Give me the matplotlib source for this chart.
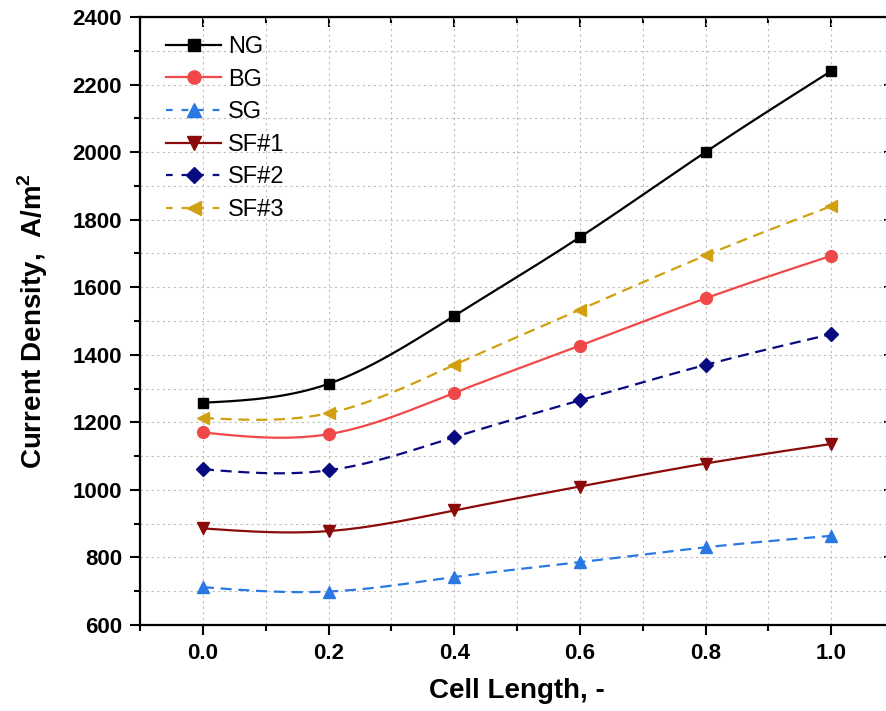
import numpy as np
import matplotlib.pyplot as plt
from matplotlib.ticker import MultipleLocator

plt.rcParams['font.family'] = ['Liberation Sans', 'DejaVu Sans']

cell_length = [0.0, 0.2, 0.4, 0.6, 0.8, 1.0]
ng = [1258, 1314, 1515, 1748, 2000, 2240]
bg = [1170, 1165, 1287, 1427, 1567, 1693]
sg = [712, 699, 742, 786, 830, 864]
sf1 = [886, 878, 939, 1010, 1078, 1136]
sf2 = [1061, 1058, 1156, 1265, 1370, 1461]
sf3 = [1213, 1227, 1370, 1533, 1694, 1840]


def spline(x, y, n=200):
    # natural cubic spline, like the smoothed lines in Origin
    x = np.asarray(x, float)
    y = np.asarray(y, float)
    k = len(x)
    h = np.diff(x)
    A = np.zeros((k, k))
    b = np.zeros(k)
    A[0, 0] = A[-1, -1] = 1
    for i in range(1, k - 1):
        A[i, i - 1] = h[i - 1]
        A[i, i] = 2 * (h[i - 1] + h[i])
        A[i, i + 1] = h[i]
        b[i] = 6 * ((y[i + 1] - y[i]) / h[i] - (y[i] - y[i - 1]) / h[i - 1])
    m = np.linalg.solve(A, b)
    xs = np.linspace(x[0], x[-1], n)
    idx = np.clip(np.searchsorted(x, xs) - 1, 0, k - 2)
    x0, x1 = x[idx], x[idx + 1]
    hh = x1 - x0
    t0, t1 = x1 - xs, xs - x0
    ys = (m[idx] * t0 ** 3 + m[idx + 1] * t1 ** 3) / (6 * hh) \
        + (y[idx] / hh - m[idx] * hh / 6) * t0 \
        + (y[idx + 1] / hh - m[idx + 1] * hh / 6) * t1
    return xs, ys


series = [
    ("NG", ng, 'black', '-', 's', 7.5),
    ("BG", bg, '#f04848', '-', 'o', 8.5),
    ("SG", sg, '#2a78e4', '--', '^', 9),
    ("SF#1", sf1, '#8b0a0a', '-', 'v', 9),
    ("SF#2", sf2, '#0a0a80', '--', 'D', 7.5),
    ("SF#3", sf3, '#d0a010', '--', '<', 9),
]

fig = plt.figure(figsize=(8.86, 7.11), dpi=100)
ax = fig.add_axes([140 / 886, 86 / 711, 754 / 886, 608 / 711])

for name, vals, col, ls, mk, ms in series:
    xs, ys = spline(cell_length, vals)
    ax.plot(xs, ys, color=col, ls=ls, lw=1.6, dashes=(5, 3) if ls == '--' else (None, None))
    ax.plot(cell_length, vals, ls='none', marker=mk, ms=ms, color=col)
    ax.plot([], [], color=col, ls=ls, lw=1.6, marker=mk, ms=ms + 1, label=name,
            dashes=(3, 4) if ls == '--' else (None, None))

ax.set_xlim(-0.1, 1.1)
ax.set_ylim(600, 2400)
ax.xaxis.set_major_locator(MultipleLocator(0.2))
ax.xaxis.set_minor_locator(MultipleLocator(0.1))
ax.yaxis.set_major_locator(MultipleLocator(200))
ax.yaxis.set_minor_locator(MultipleLocator(100))
ax.set_xticks(cell_length)
ax.set_xticklabels([f"{v:.1f}" for v in cell_length])
ax.grid(which='both', color='#bdbdbd', ls=(0, (2, 3)), lw=0.8)
ax.set_axisbelow(True)

ax.tick_params(which='major', direction='out', length=7, width=1.5, labelsize=16, pad=6)
ax.tick_params(which='minor', direction='out', length=4, width=1.5)
for lab in ax.get_xticklabels() + ax.get_yticklabels():
    lab.set_fontweight('bold')
for s in ax.spines.values():
    s.set_linewidth(1.6)

top = ax.secondary_xaxis('top')
top.xaxis.set_major_locator(MultipleLocator(0.2))
top.xaxis.set_minor_locator(MultipleLocator(0.1))
top.tick_params(which='major', direction='in', length=7, width=1.5, labeltop=False)
top.tick_params(which='minor', direction='in', length=4, width=1.5)
right = ax.secondary_yaxis('right')
right.yaxis.set_major_locator(MultipleLocator(200))
right.yaxis.set_minor_locator(MultipleLocator(100))
right.tick_params(which='major', direction='in', length=7, width=1.5, labelright=False)
right.tick_params(which='minor', direction='in', length=4, width=1.5)

ax.set_xlabel("Cell Length, -", fontsize=20, fontweight='bold', labelpad=10)
ax.set_ylabel("Current Density,  A/m$^\\mathregular{2}$", fontsize=20, fontweight='bold', labelpad=16)

ax.legend(loc='upper left', bbox_to_anchor=(0.01, 1.0), frameon=False, fontsize=17,
          handlelength=2.3, handletextpad=0.3, labelspacing=0.45, borderaxespad=0.4)

plt.savefig("out.png", dpi=100)
